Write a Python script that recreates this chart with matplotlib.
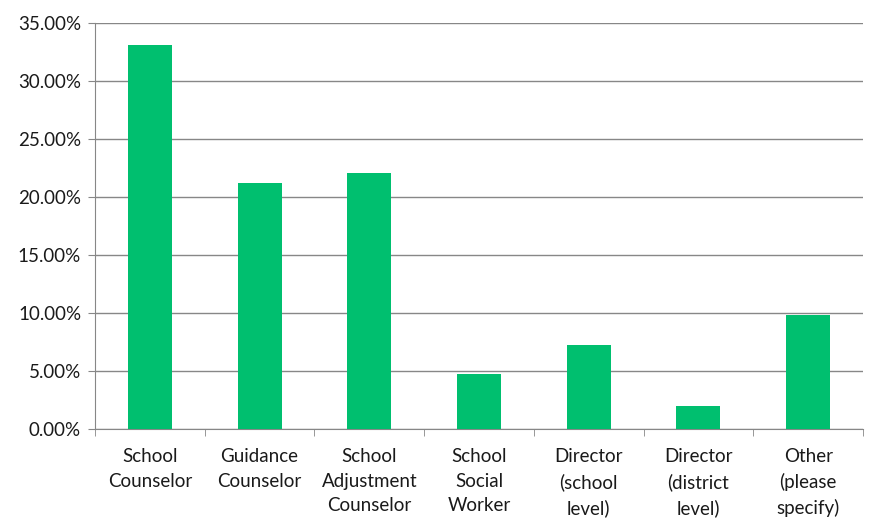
import matplotlib
matplotlib.use("Agg")
import matplotlib.pyplot as plt
from matplotlib.ticker import FuncFormatter, FixedLocator
import numpy as np

categories = ["School\nCounselor", "Guidance\nCounselor", "School\nAdjustment\nCounselor",
              "School\nSocial\nWorker", "Director\n(school\nlevel)", "Director\n(district\nlevel)",
              "Other\n(please\nspecify)"]
values = [33.1, 21.2, 22.1, 4.7, 7.2, 2.0, 9.8]
yticks = [0, 5, 10, 15, 20, 25, 30, 35]

plt.rcParams['font.family'] = ['Lato', 'DejaVu Sans']
fig = plt.figure(figsize=(8.86, 5.32), dpi=100)
ax = fig.add_axes([95/886, 1-429/532, (863-95)/886, (429-23)/532])

x = np.arange(len(categories))
ax.bar(x, values, width=0.4, color="#00BF6F", zorder=3)
ax.set_xlim(-0.5, len(categories)-0.5)
ax.set_ylim(0, 35)
ax.set_yticks(yticks)
ax.yaxis.set_major_formatter(FuncFormatter(lambda v, p: f"{v:.2f}%"))
ax.grid(axis='y', color="#878787", linewidth=1, zorder=0)
ax.set_xticks(x)
ax.set_xticklabels(categories, fontsize=13.5, color="#1a1a1a", linespacing=1.52)
ax.xaxis.set_minor_locator(FixedLocator(np.arange(-0.5, len(categories), 1)))
ax.tick_params(axis='x', which='major', length=0, pad=14)
ax.tick_params(axis='x', which='minor', length=5, color="#878787")
ax.tick_params(axis='y', length=5, color="#878787", labelsize=13.5, labelcolor="#1a1a1a", pad=5)
for s in ['top', 'right']:
    ax.spines[s].set_visible(False)
for s in ['left', 'bottom']:
    ax.spines[s].set_color("#878787")
fig.savefig("out.png", dpi=100)
